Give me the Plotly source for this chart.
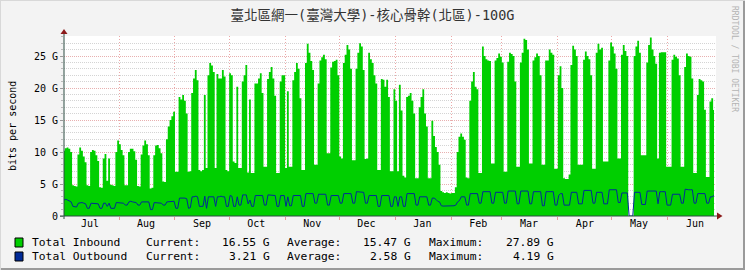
import pandas as pd
import plotly.graph_objects as go

# ---------------- data ----------------
title_text = "臺北區網一(臺灣大學)-核心骨幹(北區)-100G"
first_day = "2024-07-01"          # first daily sample (day 0)

# daily Total Inbound, G bit/s (one value per day, weeks on a row)
inbound_g = [
    10.2,
    10.6, 10.7, 10.5, 10.0, 4.8, 4.7, 4.6,
    9.6, 10.7, 10.2, 9.3, 8.4, 4.8, 4.7,
    10.0, 10.3, 10.2, 9.5, 8.6, 4.5, 4.4,
    9.0, 9.7, 5.5, 9.0, 4.9, 4.8, 4.7,
    10.0, 11.8, 11.2, 10.3, 9.5, 4.8, 4.8,
    10.0, 10.5, 10.5, 10.1, 8.8, 4.7, 4.6,
    9.6, 11.0, 11.8, 11.2, 9.5, 4.3, 4.4,
    9.5, 11.0, 11.1, 10.6, 9.8, 5.4, 5.3,
    12.0, 14.0, 15.0, 15.6, 16.3, 6.9, 6.9,
    18.6, 18.2, 18.9, 18.0, 16.0, 6.9, 7.0,
    19.2, 21.5, 22.8, 21.2, 7.2, 7.0, 7.2,
    18.9, 7.5, 22.0, 23.9, 23.5, 22.5, 7.5,
    22.2, 21.5, 21.5, 22.8, 21.8, 7.2, 7.0,
    22.3, 22.0, 8.5, 8.3, 20.2, 7.5, 7.5,
    21.0, 22.0, 23.6, 6.8, 18.2, 6.7, 6.7,
    20.7, 20.7, 21.5, 22.3, 19.2, 7.7, 7.7,
    21.4, 22.5, 23.3, 21.5, 18.8, 6.7, 6.7,
    21.0, 22.0, 22.0, 7.5, 19.5, 7.7, 7.7,
    21.2, 22.5, 23.9, 23.0, 18.4, 7.2, 7.2,
    23.9, 26.9, 25.5, 24.2, 22.8, 8.0, 8.0,
    20.7, 24.3, 24.8, 25.2, 24.5, 9.8, 9.8,
    23.2, 24.1, 24.2, 24.4, 22.0, 9.3, 9.0,
    23.9, 25.2, 26.7, 26.0, 23.0, 8.7, 8.7,
    23.0, 25.5, 27.0, 26.5, 22.8, 8.9, 9.0,
    25.5, 24.5, 23.9, 22.0, 20.7, 7.2, 7.2,
    21.4, 21.3, 20.2, 21.3, 18.6, 7.0, 7.0,
    19.8, 18.0, 7.0, 20.5, 16.5, 6.3, 6.0,
    18.6, 18.8, 19.2, 18.0, 16.0, 5.9, 5.9,
    17.0, 18.6, 19.8, 16.0, 14.0, 5.9, 5.9,
    14.9, 12.5, 10.8, 10.0, 8.0, 3.9, 3.7,
    3.6, 3.7, 3.6, 3.5, 3.6, 3.6, 4.5,
    10.0, 12.4, 12.9, 12.4, 11.9, 6.0, 5.9,
    18.0, 21.0, 22.5, 20.2, 19.8, 6.7, 6.7,
    26.5, 25.0, 24.5, 24.3, 24.2, 8.2, 8.2,
    24.3, 24.7, 25.4, 24.9, 24.0, 6.9, 6.9,
    24.1, 25.5, 25.3, 25.0, 21.0, 7.7, 7.7,
    24.0, 25.5, 27.7, 27.5, 26.0, 8.2, 8.2,
    24.3, 24.8, 25.4, 25.0, 22.0, 8.0, 8.0,
    24.3, 24.3, 26.0, 25.5, 25.2, 7.4, 7.4,
    22.0, 23.4, 20.0, 5.9, 5.8, 5.8, 6.5,
    23.6, 26.6, 26.0, 25.0, 8.0, 8.0, 8.0,
    24.4, 25.7, 25.0, 24.5, 22.0, 7.4, 7.4,
    25.5, 26.9, 26.0, 26.3, 8.5, 8.5, 8.5,
    24.3, 27.1, 26.5, 25.4, 23.0, 9.0, 9.0,
    25.2, 26.7, 25.8, 25.0, 0.0, 0.0, 0.0,
    25.0, 26.5, 27.4, 25.5, 9.5, 9.5, 9.5,
    24.0, 26.7, 27.89, 26.0, 25.0, 23.8, 9.0,
    25.5, 25.6, 25.6, 25.6, 7.7, 7.7, 7.7,
    24.4, 25.2, 24.9, 24.6, 22.0, 7.7, 7.7,
    23.3, 25.4, 25.0, 24.9, 21.5, 6.7, 6.7,
    18.9, 21.4, 21.2, 21.0, 16.6, 6.1, 6.1,
    17.9, 18.4, 16.55,
]

# daily Total Outbound, G bit/s
outbound_g = [
    2.5,
    2.6, 2.5, 2.3, 2.2, 1.5, 1.4, 1.4,
    2.0, 2.1, 2.1, 2.0, 1.9, 1.2, 1.2,
    2.0, 2.0, 2.0, 1.9, 1.9, 1.2, 1.2,
    2.0, 2.0, 1.5, 2.0, 1.2, 1.2, 1.2,
    2.1, 2.1, 2.0, 2.0, 2.0, 1.7, 1.7,
    2.2, 2.3, 2.2, 2.2, 2.1, 1.7, 1.7,
    2.2, 2.2, 2.3, 2.2, 2.2, 1.0, 1.0,
    2.1, 2.1, 2.1, 2.0, 2.0, 1.7, 1.7,
    2.2, 2.2, 2.3, 2.3, 2.3, 1.2, 1.2,
    2.8, 2.8, 2.9, 2.8, 2.7, 1.2, 1.3,
    3.0, 3.0, 3.1, 3.0, 1.5, 1.5, 1.5,
    3.1, 1.2, 3.0, 3.0, 3.0, 3.0, 1.5,
    3.0, 3.0, 3.1, 3.0, 3.0, 1.5, 1.5,
    3.2, 3.1, 1.5, 1.5, 3.0, 1.7, 1.7,
    3.3, 3.3, 3.3, 1.9, 2.5, 1.5, 1.5,
    3.2, 3.2, 3.2, 3.2, 3.2, 1.7, 1.7,
    3.3, 3.3, 3.3, 3.3, 3.2, 1.5, 1.5,
    3.2, 3.2, 3.2, 1.5, 3.0, 1.6, 1.6,
    3.2, 3.2, 3.2, 3.2, 3.2, 1.5, 1.5,
    3.5, 3.5, 3.6, 3.5, 3.5, 2.0, 2.0,
    3.4, 3.4, 3.4, 3.4, 3.4, 1.7, 1.7,
    3.2, 3.2, 3.2, 3.2, 3.2, 2.0, 2.0,
    3.5, 3.5, 3.5, 3.5, 3.5, 2.0, 2.0,
    3.8, 3.8, 3.8, 3.8, 3.7, 2.0, 2.0,
    3.2, 3.2, 3.2, 3.2, 3.2, 1.5, 1.5,
    3.2, 3.2, 3.2, 3.2, 3.2, 1.5, 1.5,
    3.0, 3.0, 1.5, 3.0, 3.0, 1.5, 1.5,
    3.5, 3.5, 3.5, 3.5, 3.5, 1.7, 1.7,
    3.0, 3.0, 3.0, 3.0, 3.0, 1.7, 1.7,
    2.8, 2.8, 2.6, 2.3, 2.2, 1.6, 1.55,
    1.55, 1.55, 1.55, 1.55, 1.55, 1.6, 1.7,
    2.2, 2.4, 3.0, 3.0, 3.0, 1.7, 1.7,
    3.5, 3.5, 3.5, 3.5, 3.5, 2.0, 2.0,
    3.8, 3.8, 3.8, 3.8, 3.8, 2.0, 2.0,
    3.7, 3.7, 3.7, 3.7, 3.7, 2.0, 2.0,
    3.9, 3.9, 3.9, 3.9, 3.9, 1.9, 1.9,
    3.9, 3.9, 3.9, 3.9, 3.9, 1.9, 1.9,
    3.8, 3.8, 3.8, 3.8, 3.8, 1.6, 1.6,
    3.8, 3.8, 3.8, 3.8, 3.8, 1.7, 1.7,
    3.2, 3.5, 3.5, 1.7, 1.7, 1.7, 1.7,
    3.7, 3.7, 3.7, 3.7, 1.9, 1.9, 1.9,
    4.0, 4.0, 4.0, 4.0, 4.0, 2.0, 2.0,
    3.7, 3.7, 3.7, 3.7, 1.9, 1.9, 1.9,
    4.1, 4.1, 4.1, 4.1, 4.1, 2.1, 2.1,
    3.6, 3.6, 3.6, 3.6, 0.0, 0.0, 0.0,
    3.7, 3.7, 3.7, 3.7, 1.8, 1.8, 1.8,
    3.9, 3.9, 3.9, 3.9, 3.9, 3.9, 1.9,
    3.8, 3.8, 3.8, 3.8, 1.7, 1.7, 1.7,
    3.4, 3.4, 3.4, 3.4, 3.4, 2.0, 2.0,
    4.19, 4.1, 4.1, 4.1, 4.1, 2.0, 2.0,
    3.5, 3.5, 3.5, 3.5, 3.5, 2.0, 2.0,
    3.0, 3.0, 3.21,
]

month_labels = ["Jul", "Aug", "Sep", "Oct", "Nov", "Dec",
                "Jan", "Feb", "Mar", "Apr", "May", "Jun"]
ytick_vals = [0, 5, 10, 15, 20, 25]
ytick_text = ["0", "5 G", "10 G", "15 G", "20 G", "25 G"]
x_window = ["2024-07-01 13:00", "2025-06-27 14:30"]
y_top = 28.125

legend_names = ["Total Inbound", "Total Outbound"]
legend_colors = ["#00CF00", "#002A97"]
legend_current = ["16.55 G", "3.21 G"]
legend_average = ["15.47 G", "2.58 G"]
legend_maximum = ["27.89 G", "4.19 G"]

# ---------------- derived ----------------
days = pd.date_range(pd.Timestamp(first_day) + pd.Timedelta(hours=12),
                     periods=len(inbound_g), freq="D")
month_starts = pd.date_range(first_day, periods=12, freq="MS")
label_pos = month_starts + pd.Timedelta(days=15)

W, H = 745, 270
L, R, T, B = 64, 716, 36, 216
MONO = "DejaVu Sans Mono"


def fx(px):
    return (px - L) / (R - L)


def fy(py):
    return (B - py) / (B - T)


fig = go.Figure()
fig.add_trace(go.Scatter(
    x=days, y=inbound_g, mode="lines",
    line=dict(width=0, shape="hvh", color="#00CF00"),
    fill="tozeroy", fillcolor="#00CF00", hoverinfo="skip"))
fig.add_trace(go.Scatter(
    x=days, y=outbound_g, mode="lines",
    line=dict(width=1, shape="linear", color="#002A97"), hoverinfo="skip"))

fig.update_layout(
    width=W, height=H,
    margin=dict(l=L, r=W - R, t=T, b=H - B, pad=0),
    paper_bgcolor="#F3F3F3", plot_bgcolor="#FFFFFF",
    showlegend=False,
    title=dict(text=title_text, xref="container", x=0.5, xanchor="center",
               yref="container", y=1 - 15.5 / H, yanchor="middle",
               font=dict(family=MONO + ", Noto Sans CJK TC", size=13.5,
                         color="#333333")),
    xaxis=dict(type="date", range=x_window, tickmode="array",
               tickvals=list(label_pos), ticktext=month_labels,
               showgrid=False, ticks="", showline=False, zeroline=False,
               tickfont=dict(family=MONO, size=10, color="#000000"),
               minor=dict(tickvals=list(month_starts), showgrid=True,
                          gridcolor="#EBA8A8", griddash="1px,2px",
                          gridwidth=1, ticks="outside", ticklen=3,
                          tickcolor="#E89A9A")),
    yaxis=dict(range=[0, y_top], tickmode="array", tickvals=ytick_vals,
               ticktext=ytick_text, showgrid=True, gridcolor="#E8B0B0",
               griddash="1px,1px", zeroline=False, showline=False,
               ticks="outside", ticklen=3, tickcolor="#9A9A9A",
               tickfont=dict(family=MONO, size=10, color="#000000"),
               minor=dict(dtick=1, showgrid=True, gridcolor="#D4D4D4",
                          griddash="1px,1px", ticks="outside", ticklen=2,
                          tickcolor="#BBBBBB")),
)

shapes = []
axis_col = "#2C4D43"
arrow_col = "#8B1A1A"
# axis lines
shapes.append(dict(type="line", xref="paper", yref="paper",
                   x0=fx(L), x1=fx(L), y0=fy(219), y1=fy(33),
                   line=dict(color=axis_col, width=1), layer="above"))
shapes.append(dict(type="line", xref="paper", yref="paper",
                   x0=fx(60), x1=fx(718), y0=fy(B), y1=fy(B),
                   line=dict(color=axis_col, width=1), layer="above"))
# arrows
shapes.append(dict(type="path", xref="paper", yref="paper",
                   path=f"M {fx(L-3.5)},{fy(34)} L {fx(L+3.5)},{fy(34)} L {fx(L)},{fy(29)} Z",
                   fillcolor=arrow_col, line=dict(width=0), layer="above"))
shapes.append(dict(type="path", xref="paper", yref="paper",
                   path=f"M {fx(717)},{fy(B-3.5)} L {fx(717)},{fy(B+3.5)} L {fx(722.5)},{fy(B)} Z",
                   fillcolor=arrow_col, line=dict(width=0), layer="above"))
# frame shading
shapes.append(dict(type="line", xref="paper", yref="paper",
                   x0=fx(0), x1=fx(W), y0=fy(H - 1), y1=fy(H - 1),
                   line=dict(color="#9A9A9A", width=2)))
shapes.append(dict(type="line", xref="paper", yref="paper",
                   x0=fx(W - 1), x1=fx(W - 1), y0=fy(0), y1=fy(H),
                   line=dict(color="#9A9A9A", width=2)))
shapes.append(dict(type="line", xref="paper", yref="paper",
                   x0=fx(0), x1=fx(W), y0=fy(0.5), y1=fy(0.5),
                   line=dict(color="#D8D8D8", width=1)))
shapes.append(dict(type="line", xref="paper", yref="paper",
                   x0=fx(0.5), x1=fx(0.5), y0=fy(0), y1=fy(H),
                   line=dict(color="#D8D8D8", width=1)))

annotations = []
annotations.append(dict(text="bits per second", xref="paper", yref="paper",
                        x=fx(12), y=0.5, xanchor="center", yanchor="middle",
                        textangle=-90, showarrow=False,
                        font=dict(family=MONO, size=10, color="#000000")))
annotations.append(dict(text="RRDTOOL / TOBI OETIKER", xref="paper", yref="paper",
                        x=fx(735), y=fy(59), xanchor="center", yanchor="middle",
                        textangle=90, showarrow=False,
                        font=dict(family=MONO, size=8, color="#B4B4B4")))

rows_y = [242.5, 256.5]
for i in range(2):
    yc = rows_y[i]
    shapes.append(dict(type="rect", xref="paper", yref="paper",
                       x0=fx(15), x1=fx(23), y0=fy(yc - 4.5), y1=fy(yc + 4.5),
                       fillcolor=legend_colors[i],
                       line=dict(color="#000000", width=1)))
    items = [(legend_names[i], 30.5, "left"), ("Current:", 144.5, "left"),
             (legend_current[i], 270.5, "right"), ("Average:", 285.5, "left"),
             (legend_average[i], 411.5, "right"), ("Maximum:", 428, "left"),
             (legend_maximum[i], 554.5, "right")]
    for txt, xp, anc in items:
        annotations.append(dict(text=txt, xref="paper", yref="paper",
                                x=fx(xp), y=fy(yc), xanchor=anc, yanchor="middle",
                                showarrow=False, borderpad=0,
                                font=dict(family=MONO, size=11.3, color="#000000")))

fig.update_layout(shapes=shapes, annotations=annotations)
fig.write_html("out.html")
